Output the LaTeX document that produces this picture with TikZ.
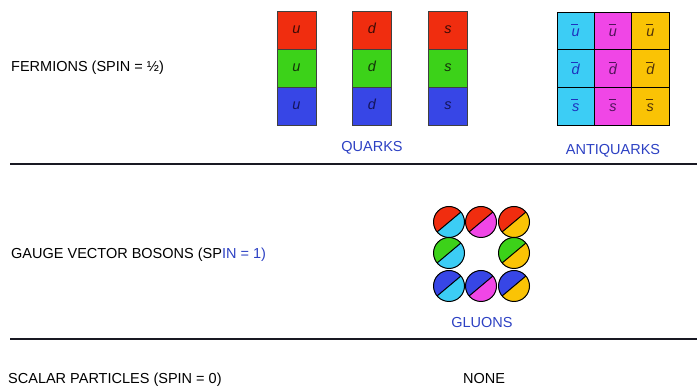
\documentclass[tikz,border=0pt]{standalone}
\usepackage{fontspec}
\setmainfont{Liberation Sans}
\definecolor{qred}{RGB}{240,45,15}
\definecolor{qgreen}{RGB}{60,210,25}
\definecolor{qblue}{RGB}{55,70,230}
\definecolor{acyan}{RGB}{60,205,245}
\definecolor{amag}{RGB}{240,70,230}
\definecolor{ayel}{RGB}{250,195,5}
\definecolor{lblue}{RGB}{45,65,195}
\definecolor{tred}{RGB}{60,10,5}
\definecolor{tgreen}{RGB}{20,50,10}
\definecolor{tblue}{RGB}{20,20,90}
\definecolor{tcyan}{RGB}{30,50,190}
\definecolor{tmag}{RGB}{80,20,90}
\definecolor{tyel}{RGB}{80,50,10}
\definecolor{rulecol}{RGB}{25,25,35}
\newcommand\labelfont{\fontsize{14.5}{17}\selectfont}
\tikzset{
  lbl/.style={font=\labelfont, inner sep=0pt, anchor=base west},
  clbl/.style={font=\labelfont, inner sep=0pt, anchor=base, text=lblue},
  qcell/.style={draw=black!75, line width=0.6pt, minimum width=39pt,
    minimum height=38pt, inner sep=0pt, font=\labelfont\itshape,
    text height=7.5pt, text depth=0pt},
  acell/.style={draw=black, line width=0.8pt, minimum width=37.33pt,
    minimum height=37.7pt, inner sep=0pt, font=\labelfont\itshape,
    text height=7.5pt, text depth=0pt},
  abar/.style={line width=0.8pt},
  rule/.style={line width=2pt, draw=rulecol},
  gluon/.style 2 args={circle, draw=black, line width=1pt,
    minimum size=31pt, inner sep=0pt,
    path picture={
      \fill[#2] (path picture bounding box.south west) rectangle
                (path picture bounding box.north east);
      \fill[#1] (path picture bounding box.center) ++(40:22pt)
                -- ++(130:22pt) -- ++(220:44pt) -- ++(310:22pt) -- cycle;
      \draw[line width=1pt] (path picture bounding box.center) ++(40:22pt)
                -- ++(220:44pt);
    }},
}
\begin{document}
\begin{tikzpicture}[x=1pt,y=1pt]
\useasboundingbox (0,0) rectangle (697,387);

% row labels
\node[lbl] (fermions) at (11,315) {FERMIONS (SPIN = ½)};
\node[lbl] (gauge) at (11,128) {GAUGE VECTOR BOSONS (SP\textcolor{lblue}{IN = 1)}};
\node[lbl] (scalar) at (8,3) {SCALAR PARTICLES (SPIN = 0)};

% separating rules
\coordinate (r1a) at (10,223); \coordinate (r1b) at (697,223);
\coordinate (r2a) at (10,48);  \coordinate (r2b) at (697,48);
\draw[rule] (r1a) -- (r1b);
\draw[rule] (r2a) -- (r2b);

% quarks: one column per flavour, one row per colour
\foreach \f/\x in {u/296.5, d/372, s/448} {
  \node[qcell, fill=qred,   text=tred]   (q-\f-r) at (\x,357) {\f};
  \node[qcell, fill=qgreen, text=tgreen] (q-\f-g) at (\x,319) {\f};
  \node[qcell, fill=qblue,  text=tblue]  (q-\f-b) at (\x,281) {\f};
}
\node[clbl] (quarks) at (372,235) {QUARKS};

% antiquarks: one column per anticolour, one row per flavour
\foreach \c/\x/\t in {acyan/575.7/tcyan, amag/613/tmag, ayel/650.3/tyel} {
  \foreach \f/\y in {u/356.2, d/318.5, s/280.8} {
    \node[acell, fill=\c] (a-\f-\c) at (\x,\y) {};
    \node[inner sep=0pt, font=\labelfont\itshape, text=\t,
          text height=7.5pt, text depth=0pt] (al-\f-\c)
          at ([yshift=-2pt]a-\f-\c.center) {\f};
    \draw[abar, \t] ([xshift=-4.5pt,yshift=6.5pt]a-\f-\c.center) -- ++(7pt,0);
  }
}
\node[clbl] (antiquarks) at (613,232) {ANTIQUARKS};

% gluons: colour / anticolour pairs
\node[gluon={qred}{acyan}]   (g-r-c) at (449,165) {};
\node[gluon={qred}{amag}]    (g-r-m) at (481,165) {};
\node[gluon={qred}{ayel}]    (g-r-y) at (514,165) {};
\node[gluon={qgreen}{acyan}] (g-g-c) at (449,134) {};
\node[gluon={qgreen}{ayel}]  (g-g-y) at (514,134) {};
\node[gluon={qblue}{acyan}]  (g-b-c) at (449,101) {};
\node[gluon={qblue}{amag}]   (g-b-m) at (481,101) {};
\node[gluon={qblue}{ayel}]   (g-b-y) at (514,101) {};
\node[clbl] (gluons) at (482,59) {GLUONS};

\node[font=\labelfont, inner sep=0pt, anchor=base] (none) at (484,3) {NONE};
\end{tikzpicture}
\end{document}
